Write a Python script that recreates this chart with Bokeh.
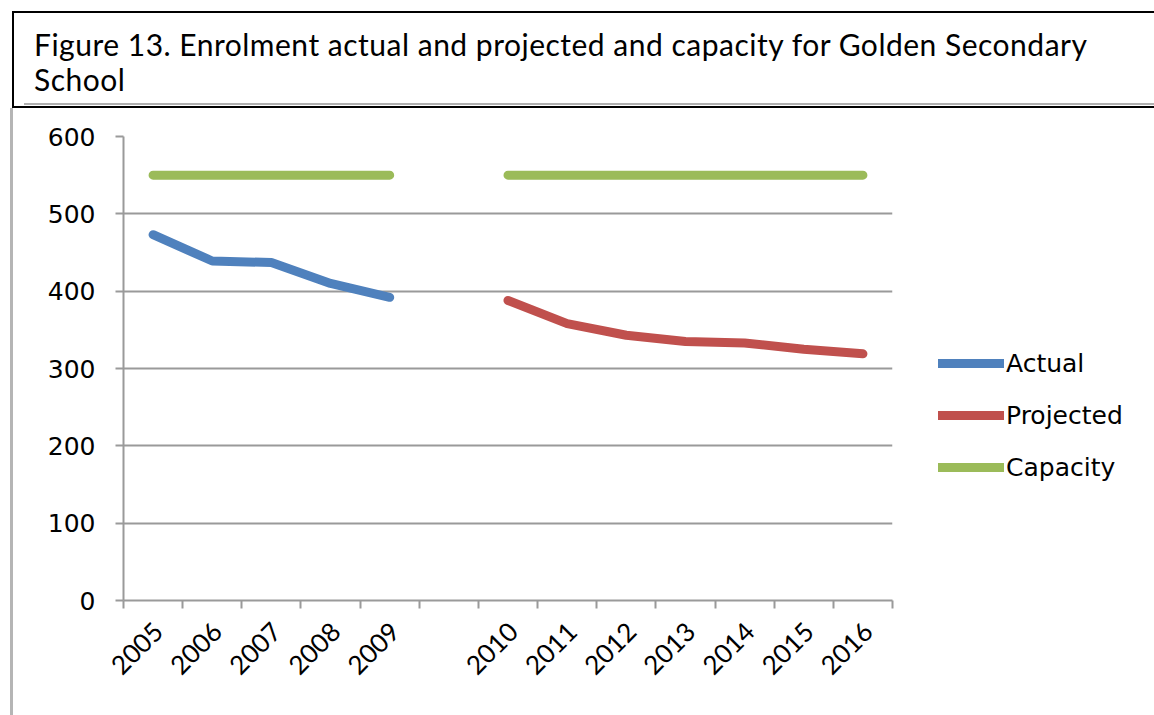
import math
from bokeh.plotting import figure
from bokeh.models import Range1d, FixedTicker, Legend, LegendItem, Div, ColumnDataSource
from bokeh.layouts import column
from bokeh.embed import file_html
from bokeh.resources import INLINE

# ---- data ----
title_line1 = "Figure 13. Enrolment actual and projected and capacity for Golden Secondary"
title_line2 = "School"
categories = ["2005", "2006", "2007", "2008", "2009", "", "2010", "2011", "2012",
              "2013", "2014", "2015", "2016"]
actual_years = ["2005", "2006", "2007", "2008", "2009"]
actual_values = [473, 439, 437, 410, 392]
projected_years = ["2010", "2011", "2012", "2013", "2014", "2015", "2016"]
projected_values = [388, 358, 343, 335, 333, 325, 319]
capacity_years = ["2005", "2006", "2007", "2008", "2009", "",
                  "2010", "2011", "2012", "2013", "2014", "2015", "2016"]
capacity_values = [550, 550, 550, 550, 550, None, 550, 550, 550, 550, 550, 550, 550]
y_ticks = [0, 100, 200, 300, 400, 500, 600]
series_names = ["Actual", "Projected", "Capacity"]

# ---- helpers: category index -> position on a numeric axis ----
def pos(labels):
    return [categories.index(c) + 0.5 for c in labels]

cap_y = [float("nan") if v is None else v for v in capacity_values]

src_actual = ColumnDataSource(dict(x=pos(actual_years), y=actual_values))
src_proj = ColumnDataSource(dict(x=pos(projected_years), y=projected_values))
src_cap = ColumnDataSource(dict(x=pos(capacity_years), y=cap_y))

# ---- title box ----
div_html = (
    '<div style="position:relative; box-sizing:border-box; margin:11px 0 0 12px; '
    'width:1142px; height:97px; border-top:2px solid #000; border-left:2px solid #000; '
    'border-bottom:2px solid #000; font-family:Lato; font-size:30px; letter-spacing:0.5px; '
    'line-height:35px; color:#000; padding:14px 0 0 20px; white-space:nowrap;">'
    f'{title_line1}<br>{title_line2}'
    '<div style="position:absolute; left:10px; right:0; bottom:1px; height:2px; '
    'background:#b0b0b0;"></div></div>'
)
title_div = Div(text=div_html, width=1154, height=108, margin=0)

# ---- chart ----
p = figure(frame_width=766, frame_height=464, output_backend="svg", toolbar_location=None,
           x_range=Range1d(0, len(categories)), y_range=Range1d(0, 600),
           min_border_left=110, min_border_right=0, min_border_top=28,
           min_border_bottom=115, margin=(0, 0, 0, 10))
p.styles = {"border-left": "3px solid #b5b5b5"}
p.outline_line_color = None
p.background_fill_color = "white"
p.border_fill_color = "white"

grey = "#9a9a9a"

# y axis
p.yaxis.ticker = FixedTicker(ticks=y_ticks)
p.yaxis.axis_line_color = grey
p.yaxis.axis_line_width = 2
p.yaxis.major_tick_line_color = grey
p.yaxis.major_tick_line_width = 2
p.yaxis.major_tick_out = 8
p.yaxis.major_tick_in = 0
p.yaxis.minor_tick_line_color = None
p.yaxis.major_label_text_font = "DejaVu Sans"
p.yaxis.major_label_text_font_size = "25px"
p.yaxis.major_label_text_color = "#000000"
p.yaxis.major_label_standoff = 20

# x axis: labels near category centres, ticks at category boundaries
label_pos = [i + 0.58 for i in range(len(categories))]
bounds = list(range(len(categories) + 1))
p.xaxis.ticker = FixedTicker(ticks=label_pos, minor_ticks=bounds)
p.xaxis.major_label_overrides = {c: lab for c, lab in zip(label_pos, categories)}
p.xaxis.axis_line_color = grey
p.xaxis.axis_line_width = 2
p.xaxis.major_tick_line_color = None
p.xaxis.major_tick_out = 0
p.xaxis.major_tick_in = 0
p.xaxis.minor_tick_line_color = grey
p.xaxis.minor_tick_line_width = 2
p.xaxis.minor_tick_out = 8
p.xaxis.minor_tick_in = 0
p.xaxis.major_label_orientation = math.pi / 4
p.xaxis.major_label_text_font = "Lato"
p.xaxis.major_label_text_font_size = "26px"
p.xaxis.major_label_text_color = "#000000"
p.xaxis.major_label_standoff = 18

p.xgrid.grid_line_color = None
p.ygrid.ticker = FixedTicker(ticks=y_ticks)
p.ygrid.grid_line_color = grey
p.ygrid.grid_line_width = 2

colors = ["#4F81BD", "#C0504D", "#9BBB59"]
r_act = p.line("x", "y", source=src_actual, line_color=colors[0], line_width=9,
               line_cap="round", line_join="round")
r_proj = p.line("x", "y", source=src_proj, line_color=colors[1], line_width=9,
                line_cap="round", line_join="round")
r_cap = p.line("x", "y", source=src_cap, line_color=colors[2], line_width=9,
               line_cap="round", line_join="round")

legend = Legend(items=[LegendItem(label=series_names[0], renderers=[r_act]),
                       LegendItem(label=series_names[1], renderers=[r_proj]),
                       LegendItem(label=series_names[2], renderers=[r_cap])],
                location=(46, 118))
legend.border_line_color = None
legend.background_fill_alpha = 0
legend.padding = 0
legend.margin = 0
legend.glyph_width = 66
legend.glyph_height = 30
legend.label_height = 30
legend.spacing = 22
legend.label_standoff = 2
legend.label_text_font = "DejaVu Sans"
legend.label_text_font_size = "25px"
legend.label_text_color = "#000000"
p.add_layout(legend, "right")

layout = column(title_div, p, spacing=0)
open("out.html", "w").write(file_html(layout, INLINE))
